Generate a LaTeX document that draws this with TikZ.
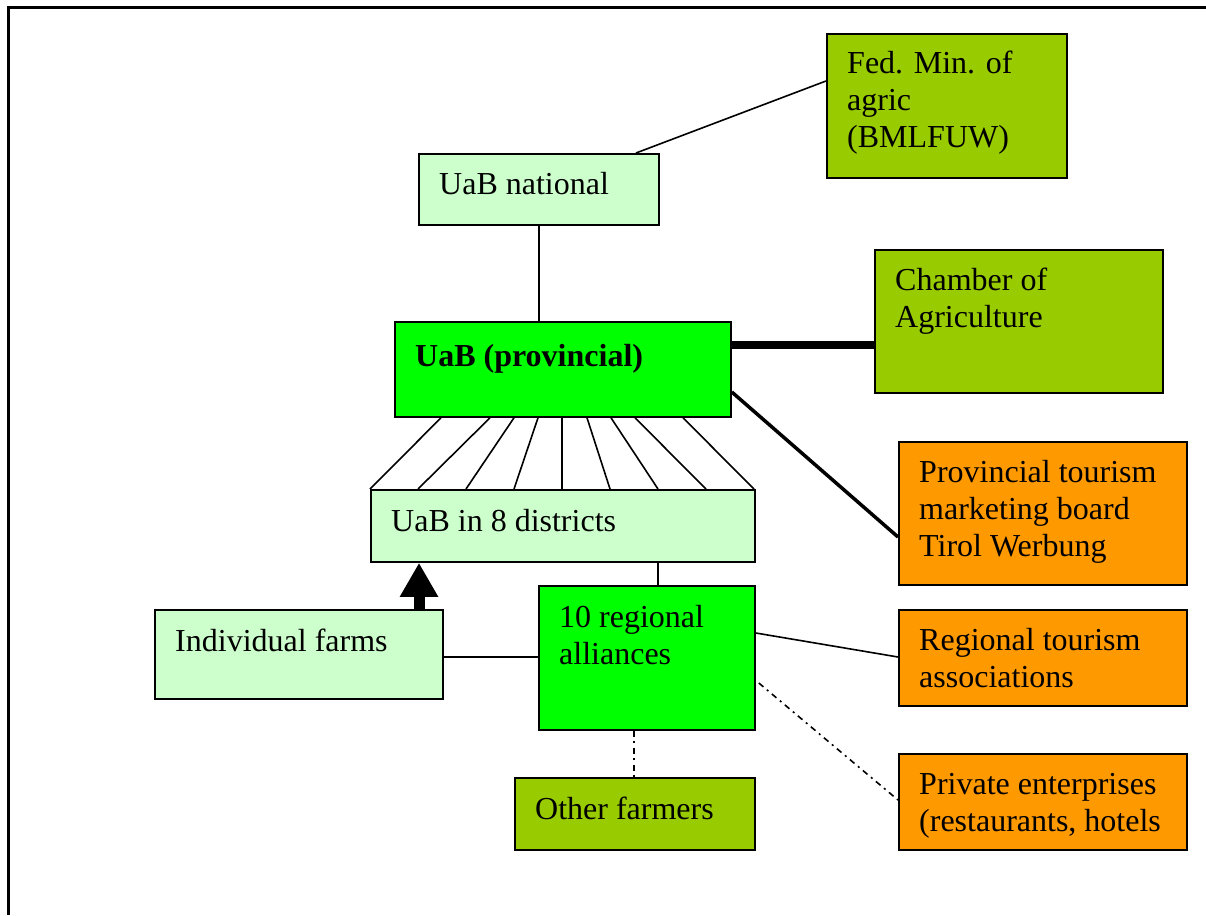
\documentclass[tikz,border=0pt]{standalone}
\usepackage{fontspec}
\setmainfont{Liberation Serif}
\usetikzlibrary{calc,arrows.meta}
\definecolor{lightg}{HTML}{CCFFCC}
\definecolor{brightg}{HTML}{00FF00}
\definecolor{oliveg}{HTML}{99CC00}
\definecolor{orangeb}{HTML}{FF9900}
\tikzset{
  box/.style={draw, line width=1.8pt, inner sep=0pt, anchor=north west, rectangle},
  txt/.style={anchor=base west, inner sep=0pt, font=\fontsize{32}{37}\selectfont},
  conn/.style={line width=1.6pt},
  thickconn/.style={line width=3.5pt},
  heavyconn/.style={line width=8pt},
  dashdot/.style={line width=1.6pt, dash pattern=on 6pt off 4.5pt on 2pt off 4.5pt},
  bigarrow/.style={line width=11pt, -{Triangle[width=36pt,length=34pt]}},
}
\begin{document}
\begin{tikzpicture}[x=1pt,y=-1pt]
\useasboundingbox (0,0) rectangle (1206,915);
% frame
\coordinate (fA) at (8.5,915);
\coordinate (fB) at (8.5,7.5);
\coordinate (fC) at (1206,7.5);
\draw[line width=2.5pt] (fA) -- (fB) -- (fC);

% boxes
\node[box, fill=oliveg,  minimum width=240pt, minimum height=144pt] (fed)  at (826,33)  {};
\node[box, fill=lightg,  minimum width=240pt, minimum height=71pt]  (nat)  at (418,153) {};
\node[box, fill=oliveg,  minimum width=288pt, minimum height=143pt] (cham) at (874,249) {};
\node[box, fill=brightg, minimum width=336pt, minimum height=95pt]  (prov) at (394,321) {};
\node[box, fill=orangeb, minimum width=288pt, minimum height=143pt] (ptb)  at (898,441) {};
\node[box, fill=lightg,  minimum width=384pt, minimum height=72pt]  (dist) at (370,489) {};
\node[box, fill=lightg,  minimum width=288pt, minimum height=89pt]  (ind)  at (154,609) {};
\node[box, fill=brightg, minimum width=216pt, minimum height=144pt] (all)  at (538,585) {};
\node[box, fill=orangeb, minimum width=288pt, minimum height=96pt]  (rta)  at (898,609) {};
\node[box, fill=oliveg,  minimum width=240pt, minimum height=72pt]  (oth)  at (514,777) {};
\node[box, fill=orangeb, minimum width=288pt, minimum height=96pt]  (priv) at (898,753) {};

% texts
\node[txt] (fedT)  at ($(fed.north west)+(21,41)$)  {\parbox[t]{300pt}{Fed. Min. of\\agric\\(BMLFUW)}};
\node[txt] (natT)  at ($(nat.north west)+(21,41)$)  {UaB national};
\node[txt] (chamT) at ($(cham.north west)+(21,41)$) {\parbox[t]{300pt}{Chamber of\\Agriculture}};
\node[txt] (provT) at ($(prov.north west)+(21,45)$) {\bfseries UaB (provincial)};
\node[txt] (ptbT)  at ($(ptb.north west)+(21,41)$)  {\parbox[t]{300pt}{Provincial tourism\\marketing board\\Tirol Werbung}};
\node[txt] (distT) at ($(dist.north west)+(21,42)$) {UaB in 8 districts};
\node[txt] (indT)  at ($(ind.north west)+(21,42)$)  {Individual farms};
\node[txt] (allT)  at ($(all.north west)+(21,42)$)  {\parbox[t]{300pt}{10 regional\\alliances}};
\node[txt] (rtaT)  at ($(rta.north west)+(21,41)$)  {\parbox[t]{300pt}{Regional tourism\\associations}};
\node[txt] (othT)  at ($(oth.north west)+(21,42)$)  {Other farmers};
\node[txt] (privT) at ($(priv.north west)+(21,41)$) {\parbox[t]{300pt}{Private enterprises\\(restaurants, hotels}};

% connectors
\draw[conn] ($(nat.north west)+(218,0)$) -- ($(fed.north west)+(0,48)$);
\draw[conn] ($(nat.south west)+(121,0)$) -- ($(prov.north west)+(145,0)$);
\draw[heavyconn] ($(prov.north east)+(0,24)$) -- ($(cham.north west)+(0,96)$);
\draw[thickconn] ($(prov.north east)+(0,71)$) -- ($(ptb.north west)+(0,96)$);
\foreach \a/\b in {47/0,96/48,120/96,144/144,168/192,193/240,217/288,241/336,289/384}
  \draw[conn] ($(prov.south west)+(\a,0)$) -- ($(dist.north west)+(\b,0)$);
\draw[conn] ($(dist.south west)+(288,0)$) -- ($(all.north west)+(120,0)$);
\draw[bigarrow] ($(ind.north west)+(265,0)$) -- ($(dist.south west)+(49,0)$);
\draw[conn] ($(ind.north east)+(0,48)$) -- ($(all.north west)+(0,72)$);
\draw[conn] ($(all.north east)+(0,48)$) -- ($(rta.north west)+(0,48)$);
\draw[dashdot] ($(all.north east)+(3,98)$) -- ($(priv.north west)+(0,47)$);
\draw[dashdot] ($(all.south west)+(96,0)$) -- ($(oth.north west)+(120,0)$);
\end{tikzpicture}
\end{document}
